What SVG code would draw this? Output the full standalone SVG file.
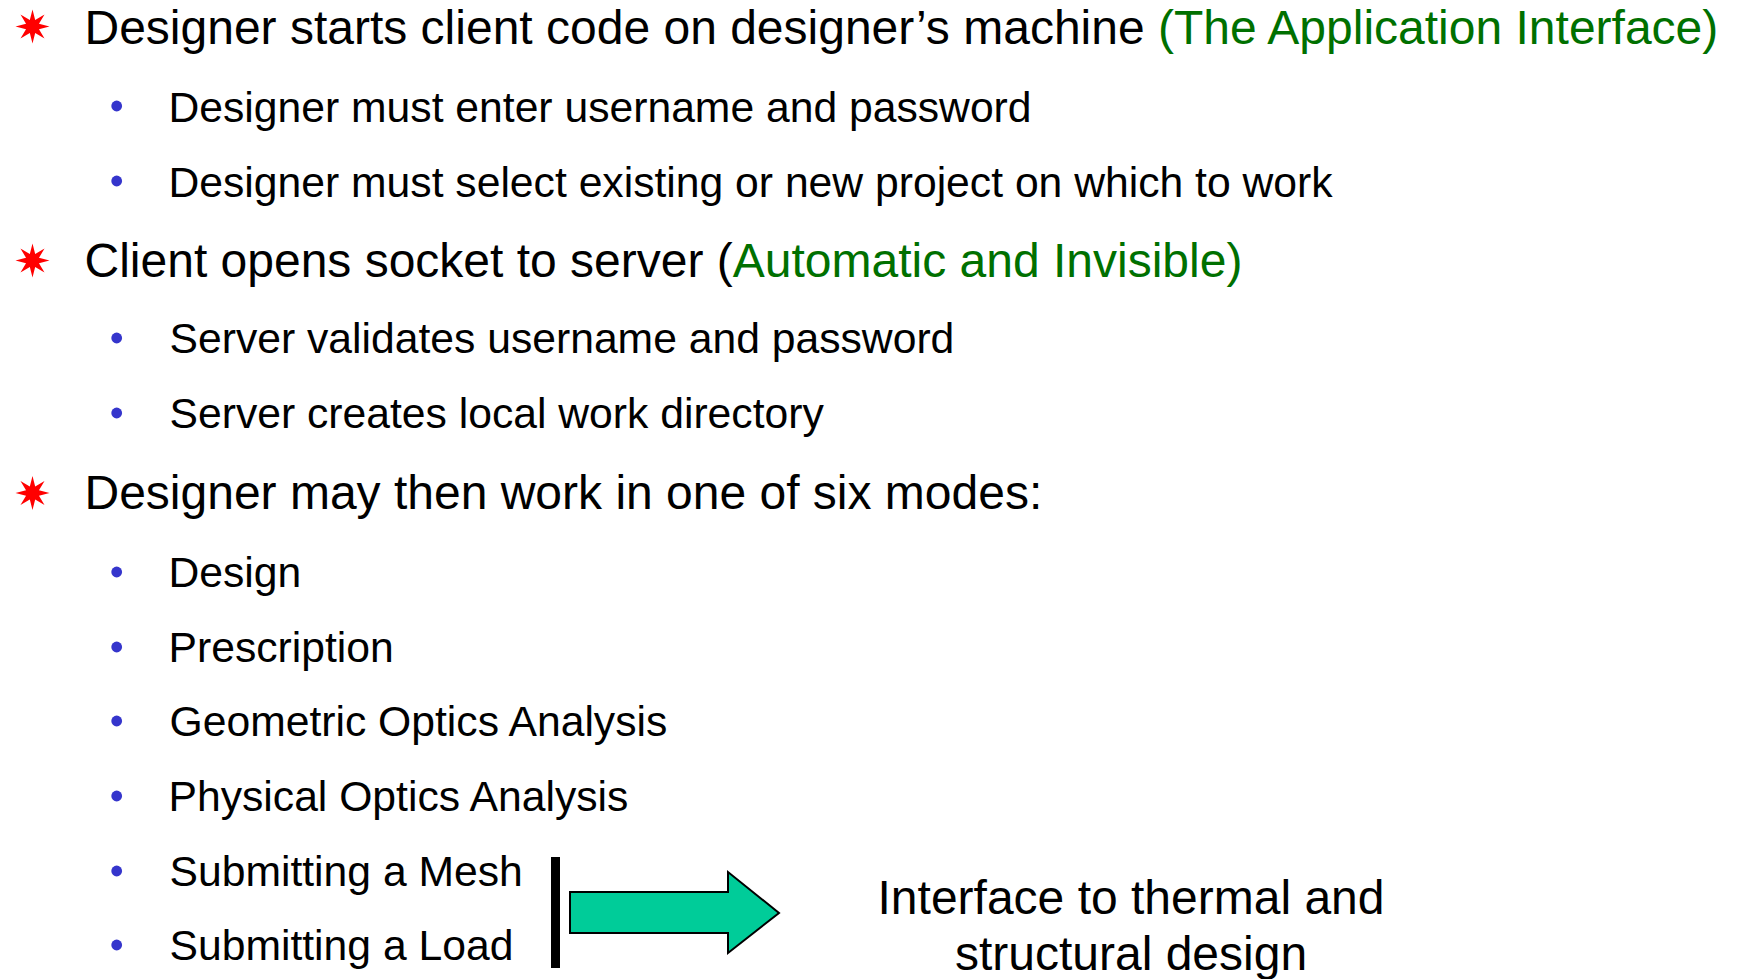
<svg xmlns="http://www.w3.org/2000/svg" width="1743" height="979" viewBox="0 0 1743 979">
<style>
text{font-family:"Liberation Sans",Arial,sans-serif;fill:#000}
.m{font-size:48px}
.s{font-size:42.67px}
.g{fill:#007000}
.star{fill:#ff0000}
.dot{fill:#3535cc}
</style>
<defs>
<path id="star" d="M0,-17 L2.68,-6.47 L12.02,-12.02 L6.47,-2.68 L17,0 L6.47,2.68 L12.02,12.02 L2.68,6.47 L0,17 L-2.68,6.47 L-12.02,12.02 L-6.47,2.68 L-17,0 L-6.47,-2.68 L-12.02,-12.02 L-2.68,-6.47 Z"/>
</defs>
<rect width="1743" height="979" fill="#fff"/>
<g id="item1">
<use href="#star" class="star" x="32.5" y="26.5"/>
<text class="m" x="84.5" y="44">Designer starts client code on designer’s machine <tspan class="g">(The Application Interface)</tspan></text>
</g>
<g id="item1a"><circle class="dot" cx="116.7" cy="106" r="5.4"/><text class="s" x="168.5" y="121.5">Designer must enter username and password</text></g>
<g id="item1b"><circle class="dot" cx="116.7" cy="181" r="5.4"/><text class="s" x="168.5" y="196.5">Designer must select existing or new project on which to work</text></g>
<g id="item2">
<use href="#star" class="star" x="32.5" y="260.5"/>
<text class="m" x="84.5" y="277">Client opens socket to server (<tspan class="g">Automatic and Invisible)</tspan></text>
</g>
<g id="item2a"><circle class="dot" cx="116.7" cy="338" r="5.4"/><text class="s" x="169.5" y="353">Server validates username and password</text></g>
<g id="item2b"><circle class="dot" cx="116.7" cy="413" r="5.4"/><text class="s" x="169.5" y="428">Server creates local work directory</text></g>
<g id="item3">
<use href="#star" class="star" x="32.5" y="493"/>
<text class="m" x="84.5" y="509">Designer may then work in one of six modes:</text>
</g>
<g id="item3a"><circle class="dot" cx="116.7" cy="572" r="5.4"/><text class="s" x="168.5" y="587">Design</text></g>
<g id="item3b"><circle class="dot" cx="116.7" cy="647" r="5.4"/><text class="s" x="168.5" y="661.5">Prescription</text></g>
<g id="item3c"><circle class="dot" cx="116.7" cy="721" r="5.4"/><text class="s" x="169.5" y="736">Geometric Optics Analysis</text></g>
<g id="item3d"><circle class="dot" cx="116.7" cy="796" r="5.4"/><text class="s" x="168.5" y="811">Physical Optics Analysis</text></g>
<g id="item3e"><circle class="dot" cx="116.7" cy="871" r="5.4"/><text class="s" x="169.5" y="885.5">Submitting a Mesh</text></g>
<g id="item3f"><circle class="dot" cx="116.7" cy="945" r="5.4"/><text class="s" x="169.5" y="960">Submitting a Load</text></g>
<g id="bar"><rect x="551" y="857" width="9" height="111" fill="#000"/></g>
<g id="connectors">
<polygon points="570,892 728,892 728,872 779,913 728,953 728,933 570,933" fill="#00cc99" stroke="#000" stroke-width="2" stroke-linejoin="miter"/>
</g>
<g id="note">
<text class="m" text-anchor="middle" x="1131" y="913.5">Interface to thermal and</text>
<text class="m" text-anchor="middle" x="1131" y="970">structural design</text>
</g>
</svg>
